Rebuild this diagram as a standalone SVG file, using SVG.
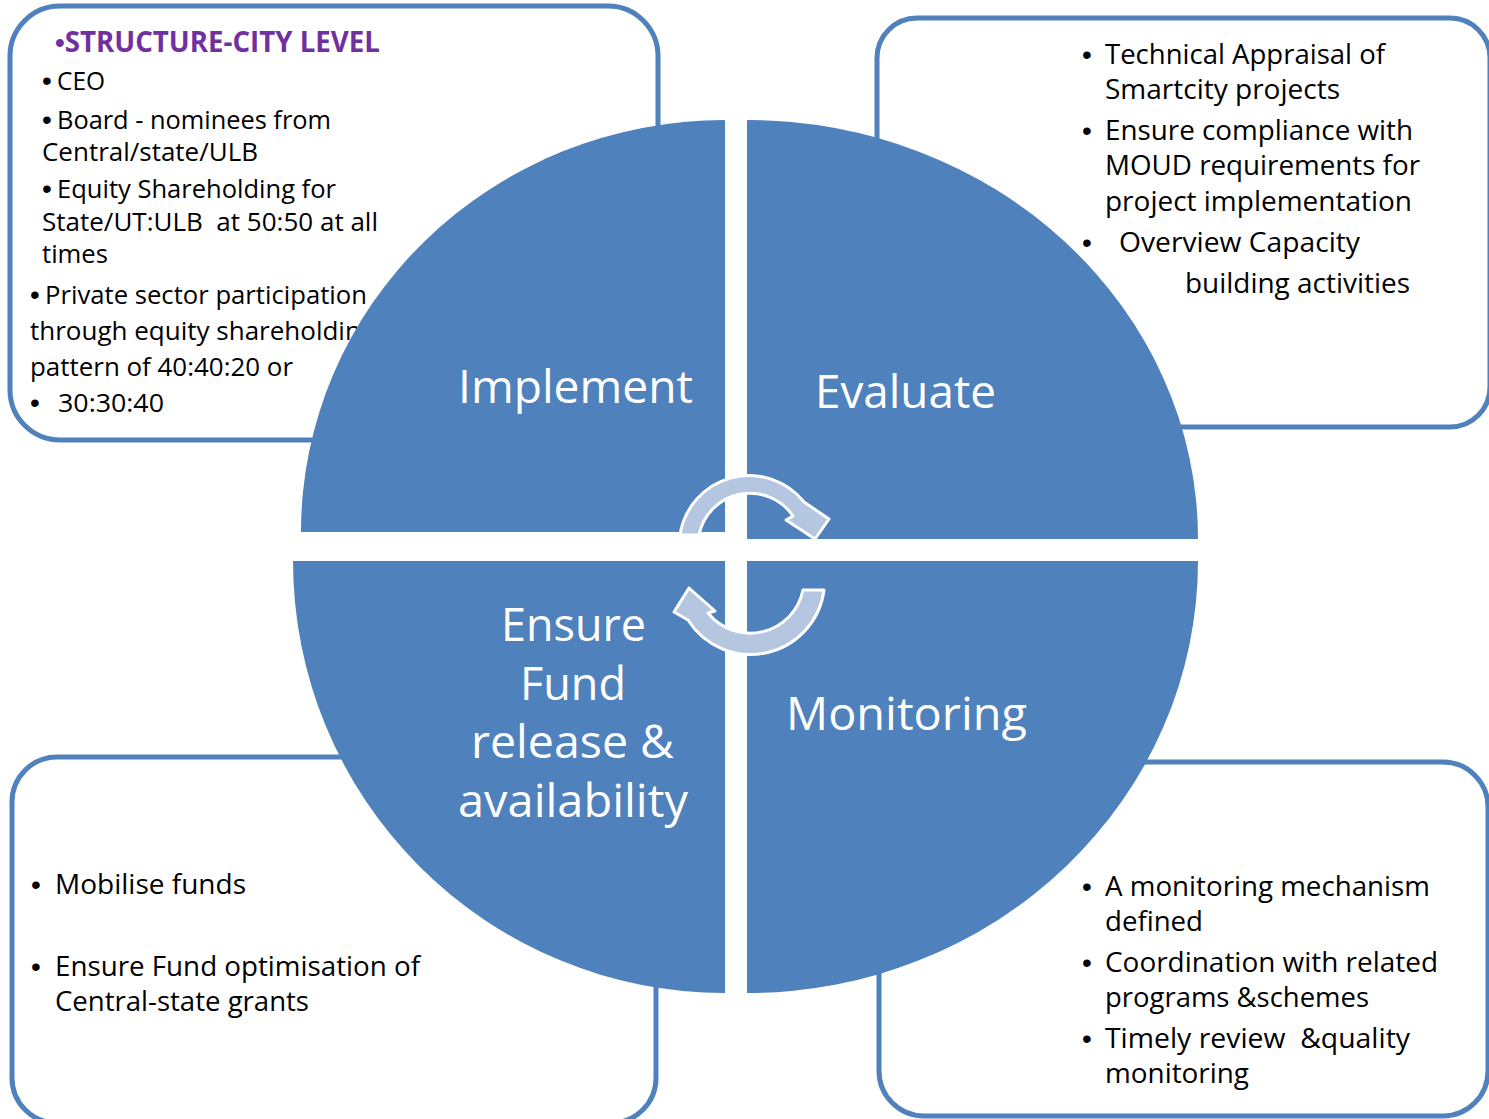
<svg xmlns="http://www.w3.org/2000/svg" width="1489" height="1119" viewBox="0 0 1489 1119">
<style>
.box{fill:#ffffff;stroke:#4F81BD;stroke-width:5}
.quad{fill:#4F81BD}
.t{font-family:"Open Sans","Liberation Sans",sans-serif;fill:#000000;white-space:pre}
.b{font-family:"Liberation Sans","Open Sans",sans-serif}
.s1{font-size:25px}
.s2{font-size:28px}
.big{font-family:"Open Sans","Liberation Sans",sans-serif;font-size:45px;fill:#ffffff}
.title{font-family:"Open Sans","Liberation Sans",sans-serif;font-size:28px;font-weight:bold;fill:#7030A0}
.arrow{fill:#B4C6E0;stroke:#ffffff;stroke-width:3;stroke-linejoin:round}
</style>
<rect width="1489" height="1119" fill="#ffffff"/>

<g id="box-structure">
<rect class="box" x="10" y="6" width="648" height="434" rx="50" ry="50"/>
<text class="title" x="55" y="52" textLength="325" lengthAdjust="spacingAndGlyphs"><tspan class="b">•</tspan>STRUCTURE-CITY LEVEL</text>
<text class="t s1" x="42" y="90"><tspan class="b" font-size="28">•</tspan><tspan x="57" textLength="48" lengthAdjust="spacingAndGlyphs">CEO</tspan></text>
<text class="t s1" x="42" y="129"><tspan class="b" font-size="28">•</tspan><tspan x="57" textLength="274" lengthAdjust="spacingAndGlyphs">Board - nominees from</tspan></text>
<text class="t s1" x="42" y="161" textLength="216" lengthAdjust="spacingAndGlyphs">Central/state/ULB</text>
<text class="t s1" x="42" y="198"><tspan class="b" font-size="28">•</tspan><tspan x="57" textLength="279" lengthAdjust="spacingAndGlyphs">Equity Shareholding for</tspan></text>
<text class="t s1" x="42" y="231" textLength="336" lengthAdjust="spacingAndGlyphs">State/UT:ULB  at 50:50 at all</text>
<text class="t s1" x="42" y="263" textLength="66" lengthAdjust="spacingAndGlyphs">times</text>
<text class="t s1" x="30" y="304"><tspan class="b" font-size="28">•</tspan><tspan x="45" textLength="322" lengthAdjust="spacingAndGlyphs">Private sector participation</tspan></text>
<text class="t s1" x="30" y="340" textLength="345" lengthAdjust="spacingAndGlyphs">through equity shareholding</text>
<text class="t s1" x="30" y="376" textLength="263" lengthAdjust="spacingAndGlyphs">pattern of 40:40:20 or</text>
<text class="t s1" y="412"><tspan class="b" font-size="28" x="30">•</tspan><tspan x="58" textLength="106" lengthAdjust="spacingAndGlyphs">30:30:40</tspan></text>
</g>

<g id="box-evaluate">
<rect class="box" x="877" y="18" width="613" height="409" rx="40" ry="40"/>
<text class="t s2 b" x="1082" y="64">•</text>
<text class="t s2" x="1105" y="64" textLength="280" lengthAdjust="spacingAndGlyphs">Technical Appraisal of</text>
<text class="t s2" x="1105" y="99" textLength="235" lengthAdjust="spacingAndGlyphs">Smartcity projects</text>
<text class="t s2 b" x="1082" y="140">•</text>
<text class="t s2" x="1105" y="140" textLength="308" lengthAdjust="spacingAndGlyphs">Ensure compliance with</text>
<text class="t s2" x="1105" y="175" textLength="315" lengthAdjust="spacingAndGlyphs">MOUD requirements for</text>
<text class="t s2" x="1105" y="211" textLength="307" lengthAdjust="spacingAndGlyphs">project implementation</text>
<text class="t s2 b" x="1082" y="252">•</text>
<text class="t s2" x="1119" y="252" textLength="241" lengthAdjust="spacingAndGlyphs">Overview Capacity</text>
<text class="t s2" x="1185" y="293" textLength="225" lengthAdjust="spacingAndGlyphs">building activities</text>
</g>

<g id="box-funds">
<rect class="box" x="12" y="757" width="644" height="366" rx="45" ry="45"/>
<text class="t s2 b" x="31" y="894">•</text>
<text class="t s2" x="55" y="894" textLength="191" lengthAdjust="spacingAndGlyphs">Mobilise funds</text>
<text class="t s2 b" x="31" y="976">•</text>
<text class="t s2" x="55" y="976" textLength="365" lengthAdjust="spacingAndGlyphs">Ensure Fund optimisation of</text>
<text class="t s2" x="55" y="1011" textLength="254" lengthAdjust="spacingAndGlyphs">Central-state grants</text>
</g>

<g id="box-monitoring">
<rect class="box" x="879" y="762" width="609" height="354" rx="45" ry="45"/>
<text class="t s2 b" x="1082" y="896">•</text>
<text class="t s2" x="1105" y="896" textLength="325" lengthAdjust="spacingAndGlyphs">A monitoring mechanism</text>
<text class="t s2" x="1105" y="931" textLength="98" lengthAdjust="spacingAndGlyphs">defined</text>
<text class="t s2 b" x="1082" y="972">•</text>
<text class="t s2" x="1105" y="972" textLength="333" lengthAdjust="spacingAndGlyphs">Coordination with related</text>
<text class="t s2" x="1105" y="1007" textLength="264" lengthAdjust="spacingAndGlyphs">programs &amp;schemes</text>
<text class="t s2 b" x="1082" y="1048">•</text>
<text class="t s2" x="1105" y="1048" textLength="305" lengthAdjust="spacingAndGlyphs">Timely review  &amp;quality</text>
<text class="t s2" x="1105" y="1083" textLength="144" lengthAdjust="spacingAndGlyphs">monitoring</text>
</g>

<g id="quad-implement">
<path class="quad" d="M725,532 L301,532 A424,412 0 0 1 725,120 Z"/>
<text class="big" x="458" y="403" textLength="235" lengthAdjust="spacingAndGlyphs">Implement</text>
</g>
<g id="quad-evaluate">
<path class="quad" d="M747,539 L747,120 A451,419 0 0 1 1198,539 Z"/>
<text class="big" x="815" y="408" textLength="181" lengthAdjust="spacingAndGlyphs">Evaluate</text>
</g>
<g id="quad-ensure">
<path class="quad" d="M725,561 L725,993 A432,432 0 0 1 293,561 Z"/>
<text class="big" x="501" y="641" textLength="145" lengthAdjust="spacingAndGlyphs">Ensure</text>
<text class="big" x="520" y="700" textLength="106" lengthAdjust="spacingAndGlyphs">Fund</text>
<text class="big" x="471" y="758" textLength="203" lengthAdjust="spacingAndGlyphs">release &amp;</text>
<text class="big" x="458" y="817" textLength="230" lengthAdjust="spacingAndGlyphs">availability</text>
</g>
<g id="quad-monitoring">
<path class="quad" d="M747,561 L1198,561 A451,432 0 0 1 747,993 Z"/>
<text class="big" x="786" y="730" textLength="241" lengthAdjust="spacingAndGlyphs">Monitoring</text>
</g>

<g id="connectors">
<path class="arrow" d="M680,535 A70,70 0 0 1 804,502 L829,519 L815,539 L786,520 L793,516 A52,52 0 0 0 699,535 Z"/>
<path class="arrow" d="M824,590 A74,74 0 0 1 688,620 L674,612 L689,588 L715,611 L708,613 A54,54 0 0 0 803,590 Z"/>
</g>
</svg>
